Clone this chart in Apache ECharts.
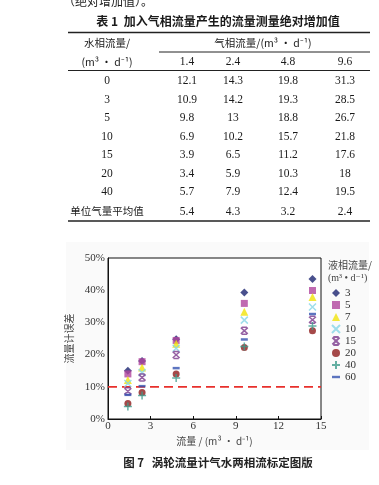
<!DOCTYPE html>
<html><head><meta charset="utf-8">
<script src="https://cdn.jsdelivr.net/npm/echarts@6/dist/echarts.min.js"></script>
<style>html,body{margin:0;padding:0;background:#fff}#c{width:379px;height:485px}</style>
</head><body><div id="c"></div>
<script>
// ---- table data ----
var tableTitle = '表 1  加入气相流量产生的流量测量绝对增加值';
var waterFlow = ['0', '3', '5', '10', '15', '20', '40'];
var gasCols = ['1.4', '2.4', '4.8', '9.6'];
var row0 = [12.1, 14.3, 19.8, 31.3];
var row3 = [10.9, 14.2, 19.3, 28.5];
var row5 = [9.8, 13, 18.8, 26.7];
var row10 = [6.9, 10.2, 15.7, 21.8];
var row15 = [3.9, 6.5, 11.2, 17.6];
var row20 = [3.4, 5.9, 10.3, 18];
var row40 = [5.7, 7.9, 12.4, 19.5];
var avgLabel = '单位气量平均值';
var avgRow = [5.4, 4.3, 3.2, 2.4];

// ---- chart data ----
var gasFlow = [1.4, 2.4, 4.8, 9.6, 14.4];
var liquidNames = ['3', '5', '7', '10', '15', '20', '40', '60'];
var err3 = [15.0, 18.0, 24.8, 39.3, 43.5];
var err5 = [14.0, 17.8, 24.4, 35.9, 39.9];
var err7 = [12.1, 16.0, 23.4, 33.3, 37.9];
var err10 = [11.0, 14.4, 22.0, 30.7, 34.8];
var err15 = [8.6, 12.9, 19.9, 27.4, 30.8];
var err20 = [4.8, 8.2, 14.0, 22.2, 27.4];
var err40 = [3.9, 7.3, 12.7, 22.5, 28.9];
var err60 = [7.5, 10.2, 15.8, 24.7, 32.6];
var refLevel = 10;
var xTicks = [0, 15, 3];
var yTicks = [0, 50, 10];

var CJK = '"Noto Sans CJK SC", sans-serif';
var SERIF = '"Liberation Serif", "DejaVu Serif", serif';
var chart = echarts.init(document.getElementById('c'));

var errs = [err3, err5, err7, err10, err15, err20, err40, err60];
var colors = ['#1c2470', '#b0459e', '#f1e40a', '#86d6e6', '#7a3a8c', '#8e1c1c', '#3e9c8c', '#3552b0'];
var symbols = ['diamond', 'rect', 'triangle',
  'path://M0,0L10,10M10,0L0,10',
  'path://M1,1L9,9M9,1L1,9M2,0.5L8,0.5M2,9.5L8,9.5',
  'circle',
  'path://M5,0L5,10M0,5L10,5',
  'rect'];
var sizes = [8, 7, 8, 7, 7, 7, 8, [7, 2.5]];
var legendIcons = [null, null, null, null, null, null, null, 'path://M0,0L10,0L10,3L0,3Z'];

var series = liquidNames.map(function (n, i) {
  var isPath = symbols[i].indexOf('path://') === 0;
  return {
    name: n, type: 'scatter', symbol: symbols[i], symbolSize: sizes[i],
    data: gasFlow.map(function (x, j) { return [x, errs[i][j]]; }),
    itemStyle: isPath ? { color: colors[i], borderColor: colors[i], borderWidth: 1.5 } : { color: colors[i] },
    z: 3
  };
});
series.push({
  type: 'line', name: 'ref', silent: true, symbol: 'none',
  data: [[xTicks[0], refLevel], [xTicks[1], refLevel]],
  lineStyle: { color: '#e8302c', width: 1.8, type: [9, 5] }, z: 2
});

// table graphics
var g = [];
g.push({ type: 'rect', z: -100, shape: { x: 66, y: 242, width: 303, height: 208 }, style: { fill: '#fafafa' } });
function txt(x, y, s, opt) {
  opt = opt || {};
  g.push({ type: 'text', x: x, y: y, z: 10, style: {
    text: s, fill: opt.fill || '#1a1a1a', font: (opt.bold ? 'bold ' : '') + (opt.size || 11) + 'px ' + (opt.family || CJK),
    align: opt.align || 'center', verticalAlign: 'middle' } });
}
function hline(x1, x2, y, w) {
  g.push({ type: 'line', z: 10, shape: { x1: x1, y1: y, x2: x2, y2: y }, style: { stroke: '#222', lineWidth: w } });
}
txt(63, 1, '（绝对增加值）。', { align: 'left', size: 12 });
txt(218, 21, tableTitle, { bold: true, size: 12 });
hline(68, 370, 32.5, 1.5);
txt(107, 43, '水相流量/', { size: 10.5 });
txt(263, 43, '气相流量/(m³ • d⁻¹)', { size: 10.5 });
hline(159, 370, 52, 1);
txt(107, 62, '(m³ • d⁻¹)', { size: 10.5 });
var colX = [187, 233, 288, 345];
gasCols.forEach(function (c, i) { txt(colX[i], 62, c, { family: SERIF, size: 11.5 }); });
hline(68, 370, 70.5, 1);
var rows = [row0, row3, row5, row10, row15, row20, row40];
var rowY = [81, 99.5, 118, 136.6, 155.2, 173.8, 192.4];
rows.forEach(function (r, k) {
  txt(107, rowY[k], waterFlow[k], { family: SERIF, size: 11.5 });
  r.forEach(function (v, i) { txt(colX[i], rowY[k], String(v), { family: SERIF, size: 11.5 }); });
});
txt(107, 211.5, avgLabel, { size: 10.5 });
avgRow.forEach(function (v, i) { txt(colX[i], 211.5, String(v), { family: SERIF, size: 11.5 }); });
hline(68, 370, 221, 1.5);
// legend title and caption
txt(328, 265.5, '液相流量/', { align: 'left', size: 10, fill: '#444' });
txt(328, 278, '(m³ • d⁻¹)', { align: 'left', size: 10, fill: '#444', family: SERIF });
txt(218, 463, '图 7   涡轮流量计气水两相流标定图版', { bold: true, size: 11.5, fill: '#222' });

chart.setOption({
  animation: false,
  backgroundColor: '#fff',
  grid: { left: 108, top: 258, right: 58, bottom: 66, show: true, backgroundColor: '#fff', borderColor: '#111', borderWidth: 1 },
  xAxis: {
    type: 'value', min: xTicks[0], max: xTicks[1], interval: xTicks[2],
    name: '流量 / (m³ • d⁻¹)', nameLocation: 'middle', nameGap: 17,
    nameTextStyle: { fontFamily: CJK, fontSize: 10, color: '#444' },
    axisLine: { lineStyle: { color: '#111' } },
    axisTick: { inside: true, length: 3, lineStyle: { color: '#111' } },
    axisLabel: { fontFamily: SERIF, fontSize: 11, color: '#333', margin: 2 },
    splitLine: { show: false }
  },
  yAxis: {
    type: 'value', min: yTicks[0], max: yTicks[1], interval: yTicks[2],
    name: '流量计误差', nameLocation: 'middle', nameGap: 26, nameRotate: 90,
    nameTextStyle: { fontFamily: CJK, fontSize: 10, color: '#444' },
    axisLine: { lineStyle: { color: '#111' } },
    axisTick: { show: false },
    axisLabel: { fontFamily: SERIF, fontSize: 11, color: '#333', margin: 3, formatter: '{value}%' },
    splitLine: { show: false }
  },
  legend: {
    data: liquidNames.map(function (n, i) { return legendIcons[i] ? { name: n, icon: legendIcons[i] } : { name: n }; }),
    orient: 'vertical', left: 331, top: 287, padding: 0,
    itemWidth: 8, itemHeight: 8, itemGap: 0,
    textStyle: { fontFamily: SERIF, fontSize: 11, color: '#333', lineHeight: 12 }
  },
  graphic: g,
  series: series
});
</script></body></html>
